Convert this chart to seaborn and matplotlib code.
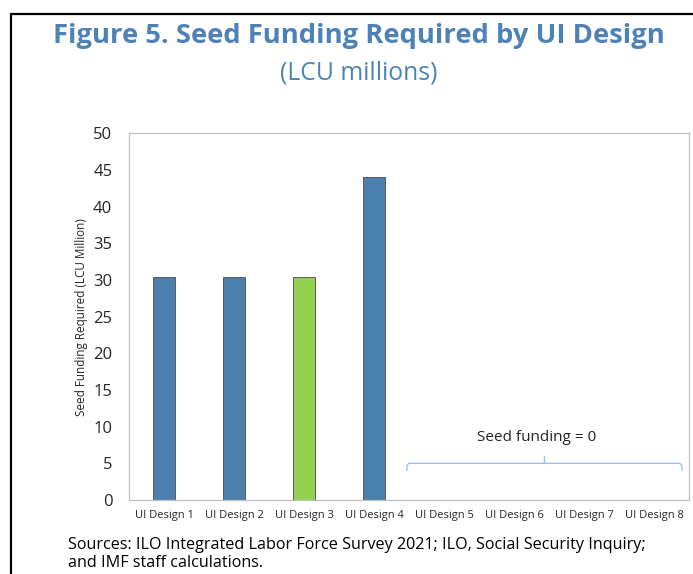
import matplotlib
matplotlib.use("Agg")
import matplotlib.pyplot as plt
import seaborn as sns
import pandas as pd
from matplotlib.lines import Line2D

categories = ["UI Design 1", "UI Design 2", "UI Design 3", "UI Design 4",
              "UI Design 5", "UI Design 6", "UI Design 7", "UI Design 8"]
seed_funding = [30.4, 30.4, 30.4, 44.0, 0, 0, 0, 0]
bar_colors = ["#4a7fae", "#4a7fae", "#92d050", "#4a7fae",
              "#4a7fae", "#4a7fae", "#4a7fae", "#4a7fae"]
y_ticks = [0, 5, 10, 15, 20, 25, 30, 35, 40, 45, 50]

title = "Figure 5. Seed Funding Required by UI Design"
subtitle = "(LCU millions)"
ylabel = "Seed Funding Required (LCU Million)"
note = "Seed funding = 0"
source = ("Sources: ILO Integrated Labor Force Survey 2021; ILO, Social Security Inquiry;\n"
          "and IMF staff calculations.")

sns.set_theme(style="white")
plt.rcParams['font.family'] = ['Open Sans', 'DejaVu Sans']

df = pd.DataFrame({"cat": categories, "val": seed_funding})

fig = plt.figure(figsize=(6.93, 5.74), dpi=100)
ax = fig.add_axes([129/693, 1-500/574, 560/693, (500-133.3)/574])

sns.barplot(data=df, x="cat", y="val", hue="cat", palette=bar_colors,
            legend=False, width=0.325, edgecolor="#5a5a5a", linewidth=0.7,
            saturation=1, ax=ax)

ax.set_xlim(-0.5, len(categories) - 0.5)
ax.set_ylim(0, 50)
ax.set_yticks(y_ticks)
ax.set_yticklabels([str(t) for t in y_ticks], fontsize=12)
ax.tick_params(axis="y", direction="in", length=4, width=0.8, color="#bfbfbf", pad=12)
ax.tick_params(axis="x", which="major", length=0, labelsize=8, pad=7)
ax.set_xticks([i + 0.5 for i in range(len(categories) - 1)], minor=True)
ax.tick_params(axis="x", which="minor", direction="in", length=4, width=0.8, color="#bfbfbf")
ax.set_xlabel("")
ax.set_ylabel(ylabel, fontsize=8.5, labelpad=4)
for s in ax.spines.values():
    s.set_color("#bfbfbf")
    s.set_linewidth(0.9)

# brace above the zero-valued designs
zero_idx = [i for i, v in enumerate(seed_funding) if v == 0]
x0 = zero_idx[0] - 0.53
x1 = zero_idx[-1] + 0.4
xm = (x0 + x1) / 2
brace_col = "#9dc3e6"
ax.plot([x0, x0, x0 + 0.03, x1 - 0.03, x1, x1], [4.0, 4.7, 5.0, 5.0, 4.7, 4.0],
        color=brace_col, lw=1.0, solid_capstyle="round")
ax.plot([xm, xm], [5.0, 6.0], color=brace_col, lw=1.0)
ax.text(xm - 0.11, 8.5, note, ha="center", va="center", fontsize=11, color="#222222")

title_col = "#4f82b4"
fig.text(0.518, 1 - 36/574, title, ha="center", va="center", fontsize=19.7,
         fontweight="bold", color=title_col)
fig.text(0.517, 1 - 73/574, subtitle, ha="center", va="center", fontsize=17.8,
         color=title_col)
fig.text(68/693, 1 - 554/574, source, ha="left", va="center", fontsize=11.6,
         color="black", linespacing=1.2)

# outer frame
fig.add_artist(Line2D([10.5/693, 10.5/693], [0, 1 - 14/574], transform=fig.transFigure,
                      color="black", lw=1.6))
fig.add_artist(Line2D([10.5/693, 1.0], [1 - 14/574, 1 - 14/574], transform=fig.transFigure,
                      color="black", lw=1.6))

fig.savefig("out.png", dpi=100)
